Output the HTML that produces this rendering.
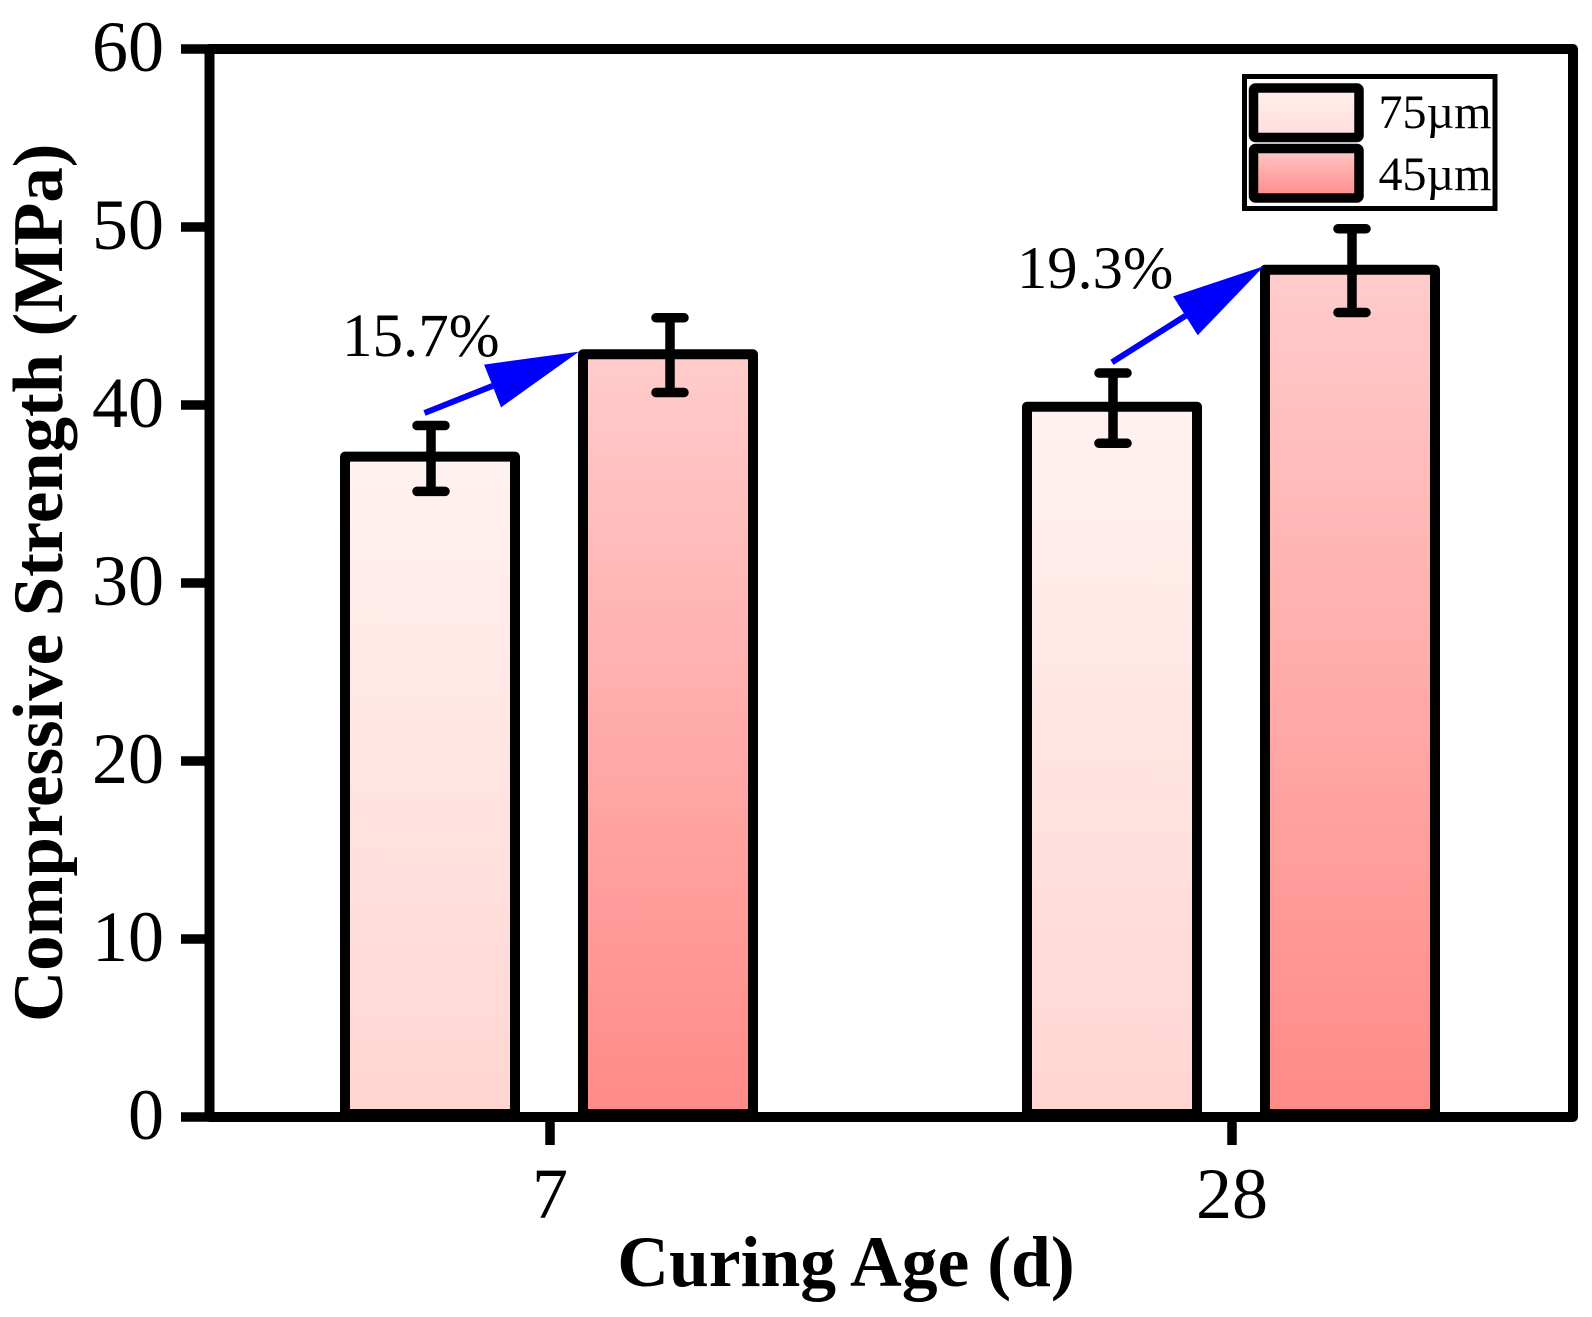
<!DOCTYPE html>
<html lang="en">
<head>
<meta charset="utf-8">
<title>Compressive Strength vs Curing Age</title>
<style>
html,body{margin:0;padding:0;background:#fff;width:1592px;height:1317px;overflow:hidden}
svg{display:block}
text{font-family:"Liberation Serif","DejaVu Serif",serif;fill:#000}
</style>
</head>
<body>
<svg id="chart" xmlns="http://www.w3.org/2000/svg" width="1592" height="1317" viewBox="0 0 1592 1317">
  <defs>
    <linearGradient id="grad-light" x1="0" y1="0" x2="0" y2="1">
      <stop offset="0" stop-color="#fff2f0"/><stop offset="1" stop-color="#ffd5d1"/>
    </linearGradient>
    <linearGradient id="grad-dark" x1="0" y1="0" x2="0" y2="1">
      <stop offset="0" stop-color="#ffcccb"/><stop offset="1" stop-color="#ff8a88"/>
    </linearGradient>
    <linearGradient id="grad-legend-light" x1="0" y1="0" x2="0" y2="1">
      <stop offset="0" stop-color="#fff1ef"/><stop offset="1" stop-color="#ffdcd8"/>
    </linearGradient>
    <linearGradient id="grad-legend-dark" x1="0" y1="0" x2="0" y2="1">
      <stop offset="0" stop-color="#ffc8c8"/><stop offset="1" stop-color="#ff8a88"/>
    </linearGradient>
  </defs>

  <rect x="0" y="0" width="1592" height="1317" fill="#fff"/>
  <g id="bars"></g>
  <g id="errors"></g>
  <g id="arrows"></g>
  <g id="axes"></g>

  <text x="342" y="356" font-size="61">15.7%</text>
  <text x="1017" y="288" font-size="60.5">19.3%</text>

  <text x="846" y="1286" font-size="71.6" font-weight="bold" text-anchor="middle">Curing Age (d)</text>
  <text transform="translate(62,1022) rotate(-90)" font-size="70.8" font-weight="bold">Compressive Strength (MPa)</text>

  <g>
    <rect x="1244.5" y="76.5" width="250.5" height="132" fill="#fff" stroke="#000" stroke-width="5"/>
    <rect x="1253.5" y="88" width="105.5" height="49.5" rx="2" fill="url(#grad-legend-light)" stroke="#000" stroke-width="9.5"/>
    <rect x="1253.5" y="148.5" width="105.5" height="49.5" rx="2" fill="url(#grad-legend-dark)" stroke="#000" stroke-width="9.5"/>
    <text x="1378.5" y="128" font-size="48">75µm</text>
    <text x="1378.5" y="190" font-size="48">45µm</text>
  </g>
</svg>
<script>
const categories = ['7', '28'];
const series75 = [37.1, 39.9];
const series45 = [42.85, 47.6];
const errHigh75 = [38.85, 41.8];
const errLow75 = [35.15, 37.85];
const errHigh45 = [44.9, 49.9];
const errLow45 = [40.7, 45.2];
const yTickValues = [0, 10, 20, 30, 40, 50, 60];
const arrowFromCat = [-0.184, 0.824];
const arrowFromVal = [39.55, 42.4];
const arrowToCat = [0.0425, 1.047];
const arrowToVal = [43.0, 47.8];

const NS = 'http://www.w3.org/2000/svg';
function yScale(v) { return 1117 - v * 17.8; }
function xScale(c) { return 550 + c * 682; }
function make(tag, parent, attrs) {
  const el = document.createElementNS(NS, tag);
  for (const k in attrs) el.setAttribute(k, attrs[k]);
  parent.appendChild(el);
  return el;
}
const barsG = document.getElementById('bars');
const errG = document.getElementById('errors');
const arrowsG = document.getElementById('arrows');
const axesG = document.getElementById('axes');

const seriesList = [series75, series45];
const errHighList = [errHigh75, errHigh45];
const errLowList = [errLow75, errLow45];
const fills = ['url(#grad-light)', 'url(#grad-dark)'];
const seriesNames = ['75um', '45um'];
const barOffset = [-120, 118];
const errOffset = [-119, 120];
const BAR_W = 170;

seriesList.forEach(function (vals, s) {
  vals.forEach(function (v, i) {
    const cx = xScale(i) + barOffset[s];
    const top = yScale(v);
    const bar = make('path', barsG, {
      d: 'M' + (cx - BAR_W / 2) + ' 1114V' + top + 'H' + (cx + BAR_W / 2) + 'V1114Z',
      fill: fills[s], stroke: '#000', 'stroke-width': 10, 'stroke-linejoin': 'round'
    });
    
    

    const ex = xScale(i) + errOffset[s];
    const hi = yScale(errHighList[s][i]);
    const lo = yScale(errLowList[s][i]);
    const eb = make('path', errG, {
      d: 'M' + ex + ' ' + hi + 'V' + lo + 'M' + (ex - 14) + ' ' + hi + 'H' + (ex + 14) + 'M' + (ex - 14) + ' ' + lo + 'H' + (ex + 14),
      fill: 'none', stroke: '#000', 'stroke-width': 9.5, 'stroke-linecap': 'round'
    });
    
    
  });
});

arrowFromCat.forEach(function (c, i) {
  const x1 = xScale(c), y1 = yScale(arrowFromVal[i]);
  const x2 = xScale(arrowToCat[i]), y2 = yScale(arrowToVal[i]);
  const dx = x2 - x1, dy = y2 - y1, len = Math.hypot(dx, dy);
  const ux = dx / len, uy = dy / len;
  const bx = x2 - ux * 93, by = y2 - uy * 93;
  const hw = 23;
  const line = make('line', arrowsG, { x1: x1, y1: y1, x2: bx, y2: by, stroke: '#0000ff', 'stroke-width': 6 });
  
  
  const head = make('polygon', arrowsG, {
    points: x2 + ',' + y2 + ' ' + (bx - uy * hw) + ',' + (by + ux * hw) + ' ' + (bx + uy * hw) + ',' + (by - ux * hw),
    fill: '#0000ff'
  });
  
  
});

const frame = make('path', axesG, {
  d: 'M209.5 ' + yScale(60) + 'H1573V' + yScale(0) + 'H209.5Z',
  fill: 'none', stroke: '#000', 'stroke-width': 10, 'stroke-linejoin': 'round'
});



yTickValues.forEach(function (t) {
  const y = yScale(t);
  const tick = make('line', axesG, { x1: 181, y1: y, x2: 209, y2: y, stroke: '#000', 'stroke-width': 9.5 });
  
  
  const label = make('text', axesG, { x: 164, y: y + 22, 'font-size': 72, 'text-anchor': 'end' });
  label.textContent = String(t);
  
  
});

categories.forEach(function (cat, i) {
  const x = xScale(i);
  const tick = make('line', axesG, { x1: x, y1: yScale(0), x2: x, y2: 1145, stroke: '#000', 'stroke-width': 9.5 });
  
  
  const label = make('text', axesG, { x: x, y: 1218, 'font-size': 72, 'text-anchor': 'middle' });
  label.textContent = cat;
  
  
});
</script>
</body>
</html>
